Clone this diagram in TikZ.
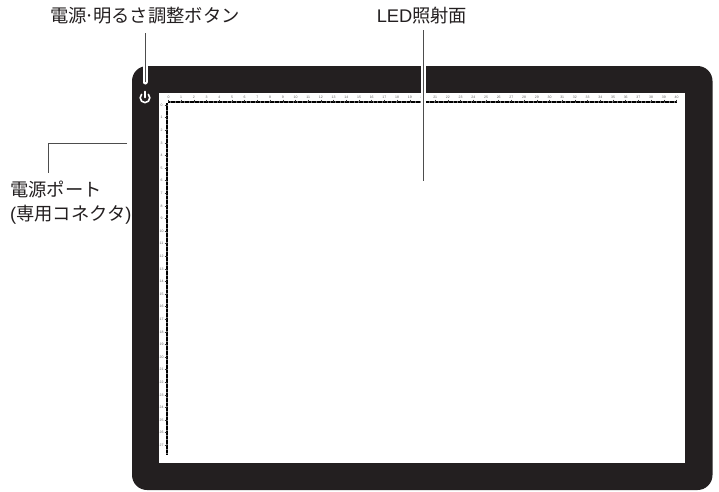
\documentclass[tikz,border=0pt]{standalone}
\usepackage{fontspec}
\setmainfont{Noto Sans CJK JP}
\newfontfamily\rulerfont{Liberation Sans}
\definecolor{framecol}{HTML}{231F20}
\definecolor{leadcol}{HTML}{4D4D4D}
\begin{document}
\begin{tikzpicture}[
        x=1pt, y=-1pt,
        caption/.style={font=\fontsize{18.3}{24}\selectfont, text=framecol, inner sep=0pt},
        leader/.style={draw=leadcol, line width=1pt},
        halo/.style={draw=white, line width=5pt},
        rulerbase/.style={draw=black!55, line width=2.6pt},
        rulerbar/.style={draw=black, line width=2.6pt, dash pattern=on .7pt off .57pt},
        rulernum/.style={font=\rulerfont\fontsize{3.5}{3.5}\selectfont, text=black!60, inner sep=0pt},
    ]
    \useasboundingbox (0,0) rectangle (719,491);
    \fill[framecol, rounded corners=15pt] (132,66) rectangle (712.5,490);
    \fill[white] (159,93) rectangle (685,463);
    % ruler along the top
    \draw[rulerbase] (168,102) -- (677,102);
    \draw[rulerbar] (168,102) -- (677,102);
    \foreach \i in {0,...,40}{
        \draw[black!80, line width=.5pt] ({168.5+12.7*\i},99.5) -- ({168.5+12.7*\i},102);
        \node[rulernum] (top\i) at ({168.5+12.7*\i},97) {\i};
    }
    % ruler down the side
    \draw[rulerbase] (167,103) -- (167,454);
    \draw[rulerbar] (167,103) -- (167,454);
    \foreach \i in {0,...,27}{
        \draw[black!80, line width=.5pt] (164.5,{105+12.6*\i}) -- (167,{105+12.6*\i});
        \node[rulernum] (side\i) at (161.5,{105+12.6*\i}) {\i};
    }
    % power icon
    \draw[white, line width=1.6pt, line cap=round] (141.6,94.4) arc[start angle=225, end angle=-45, radius=4.8];
    \draw[white, line width=1.6pt, line cap=round] (145,91.5) -- (145,97.5);
    % labels
    \node[caption] (btnlabel) at (145,16) {電源\kern-2pt·\kern-2pt 明るさ調整ボタン};
    \node[caption] (ledlabel) at (422,16) {{\rulerfont LED}照射面};
    \node[caption, align=left, anchor=west] (portlabel) at (10,203) {電源ポート\\{\rulerfont(}専用コネクタ{\rulerfont)}};
    \coordinate (btnend) at (145,82);
    \coordinate (ledend) at (423,181);
    \coordinate (portend) at (127,143);
    \coordinate (portknee) at (48,143);
    \coordinate (portstart) at (48,173);
    % white gaps where the leaders cross the frame
    \draw[halo, line cap=round] (145,66) -- (btnend);
    \draw[halo] (423,66) -- (423,105);
    \draw[leader] (145,33) -- (btnend);
    \draw[leader] (423,30) -- (ledend);
    \draw[leader] (portend) -- (portknee) -- (portstart);
\end{tikzpicture}
\end{document}
